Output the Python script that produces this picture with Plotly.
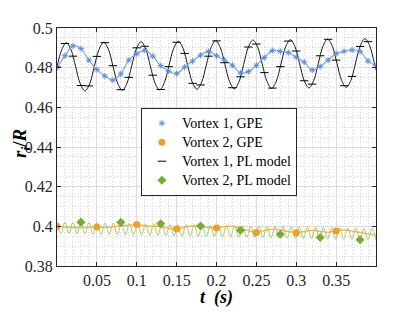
import plotly.graph_objects as go

# ---------------- data ----------------
# Vortex 1, GPE (sampled every 0.01 s)
t_gpe = [0.00, 0.01, 0.02, 0.03, 0.04, 0.05, 0.06, 0.07, 0.08, 0.09,
         0.10, 0.11, 0.12, 0.13, 0.14, 0.15, 0.16, 0.17, 0.18, 0.19,
         0.20, 0.21, 0.22, 0.23, 0.24, 0.25, 0.26, 0.27, 0.28, 0.29,
         0.30, 0.31, 0.32, 0.33, 0.34, 0.35, 0.36, 0.37, 0.38, 0.39, 0.40]
r1_gpe = [0.4800, 0.4860, 0.4910, 0.4896, 0.4838, 0.4790, 0.4758, 0.4737, 0.4768, 0.4838,
          0.4870, 0.4888, 0.4858, 0.4810, 0.4782, 0.4770, 0.4803, 0.4833, 0.4863, 0.4882,
          0.4860, 0.4838, 0.4812, 0.4773, 0.4780, 0.4812, 0.4851, 0.4886, 0.4882, 0.4876,
          0.4853, 0.4828, 0.4788, 0.4806, 0.4838, 0.4871, 0.4882, 0.4889, 0.4882, 0.4833, 0.4810]

# Vortex 2, GPE line (every 0.01 s)
r2_gpe = [0.4000, 0.3996, 0.3994, 0.3992, 0.3995, 0.3997, 0.3993, 0.3998, 0.4003, 0.4006,
          0.4009, 0.4004, 0.4000, 0.3998, 0.3990, 0.3986, 0.3995, 0.4002, 0.3998, 0.3994,
          0.3991, 0.3999, 0.4001, 0.3990, 0.3978, 0.3969, 0.3978, 0.3986, 0.3982, 0.3974,
          0.3968, 0.3974, 0.3980, 0.3975, 0.3970, 0.3977, 0.3982, 0.3976, 0.3970, 0.3962, 0.3956]
# Vortex 2, GPE markers
t2_gpe_mk = [0.00, 0.05, 0.10, 0.15, 0.20, 0.25, 0.30, 0.35]
r2_gpe_mk = [0.4000, 0.3997, 0.4009, 0.3986, 0.3991, 0.3969, 0.3968, 0.3977]

# Vortex 1, PL model line (read every 1/8 of its period)
t1_pl = [0.0000, 0.0059, 0.0117, 0.0176, 0.0234, 0.0293, 0.0351, 0.0410, 0.0468, 0.0527,
         0.0585, 0.0644, 0.0702, 0.0761, 0.0819, 0.0878, 0.0936, 0.0995, 0.1053, 0.1112,
         0.1170, 0.1229, 0.1287, 0.1346, 0.1404, 0.1463, 0.1521, 0.1580, 0.1638, 0.1697,
         0.1755, 0.1814, 0.1872, 0.1931, 0.1989, 0.2048, 0.2106, 0.2165, 0.2223, 0.2282,
         0.2340, 0.2399, 0.2457, 0.2516, 0.2574, 0.2633, 0.2691, 0.2750, 0.2808, 0.2867,
         0.2925, 0.2984, 0.3042, 0.3101, 0.3159, 0.3218, 0.3276, 0.3335, 0.3393, 0.3452,
         0.3510, 0.3569, 0.3627, 0.3686, 0.3744, 0.3803, 0.3861, 0.3920, 0.3978, 0.4037]
r1_pl = [0.4803, 0.4890, 0.4926, 0.4890, 0.4804, 0.4718, 0.4683, 0.4719, 0.4806, 0.4892,
         0.4928, 0.4893, 0.4807, 0.4721, 0.4686, 0.4722, 0.4808, 0.4895, 0.4931, 0.4895,
         0.4809, 0.4723, 0.4688, 0.4724, 0.4811, 0.4897, 0.4933, 0.4898, 0.4812, 0.4726,
         0.4691, 0.4727, 0.4813, 0.4900, 0.4936, 0.4901, 0.4815, 0.4729, 0.4693, 0.4729,
         0.4816, 0.4903, 0.4939, 0.4903, 0.4817, 0.4731, 0.4696, 0.4732, 0.4818, 0.4905,
         0.4941, 0.4906, 0.4820, 0.4734, 0.4698, 0.4734, 0.4821, 0.4908, 0.4944, 0.4908,
         0.4822, 0.4736, 0.4701, 0.4737, 0.4824, 0.4910, 0.4946, 0.4911, 0.4825, 0.4739]
# Vortex 1, PL model markers (every 0.01 s)
r1_pl_mk = [0.4803, 0.4922, 0.4858, 0.4710, 0.4708, 0.4857, 0.4926, 0.4810, 0.4689, 0.4751,
            0.4900, 0.4908, 0.4762, 0.4690, 0.4805, 0.4928, 0.4872, 0.4721, 0.4713, 0.4858,
            0.4935, 0.4825, 0.4699, 0.4754, 0.4904, 0.4919, 0.4775, 0.4697, 0.4805, 0.4934,
            0.4884, 0.4734, 0.4717, 0.4860, 0.4943, 0.4838, 0.4709, 0.4756, 0.4907, 0.4931]

# Vortex 2, PL model line: peaks and troughs
t2_pl_peak = [0.0000, 0.0099, 0.0199, 0.0300, 0.0401, 0.0503, 0.0604, 0.0706, 0.0807, 0.0908,
              0.1010, 0.1111, 0.1213, 0.1314, 0.1416, 0.1517, 0.1618, 0.1720, 0.1821, 0.1923,
              0.2024, 0.2125, 0.2227, 0.2328, 0.2430, 0.2531, 0.2632, 0.2734, 0.2835, 0.2937,
              0.3038, 0.3140, 0.3241, 0.3342, 0.3444, 0.3545, 0.3647, 0.3748, 0.3849, 0.3951]
r2_pl_peak = [0.4010, 0.4021, 0.4020, 0.4020, 0.4019, 0.4018, 0.4017, 0.4016, 0.4015, 0.4014,
              0.4014, 0.4013, 0.4012, 0.4011, 0.4010, 0.4009, 0.4009, 0.4008, 0.4007, 0.4006,
              0.4005, 0.4004, 0.4004, 0.4003, 0.4002, 0.4001, 0.4000, 0.3999, 0.3998, 0.3998,
              0.3997, 0.3996, 0.3995, 0.3994, 0.3993, 0.3993, 0.3992, 0.3991, 0.3990, 0.3989]
t2_pl_trough = [0.0051, 0.0150, 0.0250, 0.0351, 0.0452, 0.0554, 0.0655, 0.0757, 0.0858, 0.0959,
                0.1061, 0.1162, 0.1264, 0.1365, 0.1467, 0.1568, 0.1669, 0.1771, 0.1872, 0.1974,
                0.2075, 0.2176, 0.2278, 0.2379, 0.2481, 0.2582, 0.2683, 0.2785, 0.2886, 0.2988,
                0.3089, 0.3191, 0.3292, 0.3393, 0.3495, 0.3596, 0.3698, 0.3799, 0.3900, 0.4000]
r2_pl_trough = [0.3964, 0.3963, 0.3962, 0.3961, 0.3960, 0.3959, 0.3959, 0.3958, 0.3957, 0.3956,
                0.3955, 0.3954, 0.3954, 0.3953, 0.3952, 0.3951, 0.3950, 0.3949, 0.3948, 0.3948,
                0.3947, 0.3946, 0.3945, 0.3944, 0.3943, 0.3943, 0.3942, 0.3941, 0.3940, 0.3939,
                0.3938, 0.3938, 0.3937, 0.3936, 0.3935, 0.3934, 0.3933, 0.3932, 0.3932, 0.3931]
# Vortex 2, PL model markers
t2_pl_mk = [0.03, 0.08, 0.13, 0.18, 0.23, 0.28, 0.33, 0.38]
r2_pl_mk = [0.4021, 0.4020, 0.4013, 0.4002, 0.3980, 0.3960, 0.3944, 0.3932]

x_tickvals = [0.05, 0.10, 0.15, 0.20, 0.25, 0.30, 0.35]
x_ticktext = ["0.05", "0.1", "0.15", "0.2", "0.25", "0.3", "0.35"]
y_tickvals = [0.38, 0.40, 0.42, 0.44, 0.46, 0.48, 0.50]
y_ticktext = ["0.38", "0.4", "0.42", "0.44", "0.46", "0.48", "0.5"]

legend_names = ["Vortex 1, GPE", "Vortex 2, GPE", "Vortex 1, PL model", "Vortex 2, PL model"]

# ---------------- styles ----------------
BLUE_L = "#7ea6e2"
BLUE_M = "#5f8cd8"
ORANGE = "#eaa12a"
ORANGE_L = "#efb34a"
GREEN = "#77ac30"
GREEN_L = "#9cc45e"
AX = "#262626"
FONT = "Liberation Serif"


def leg(name):
    return '<span style="font-size:14px">' + name + '</span>'


# merge green peaks/troughs in time order
g_pts = sorted(zip(t2_pl_peak + t2_pl_trough, r2_pl_peak + r2_pl_trough))
t2_pl = [p[0] for p in g_pts]
r2_pl = [p[1] for p in g_pts]

fig = go.Figure()

# lines (no legend)
fig.add_trace(go.Scatter(x=t2_pl, y=r2_pl, mode="lines", line=dict(color=GREEN_L, width=0.9, shape="spline"),
                         showlegend=False, hoverinfo="skip"))
fig.add_trace(go.Scatter(x=t_gpe, y=r2_gpe, mode="lines", line=dict(color=ORANGE_L, width=1.3, shape="spline"),
                         showlegend=False, hoverinfo="skip"))
fig.add_trace(go.Scatter(x=t1_pl, y=r1_pl, mode="lines", line=dict(color="black", width=0.9, shape="spline"),
                         showlegend=False, hoverinfo="skip"))
fig.add_trace(go.Scatter(x=t_gpe, y=r1_gpe, mode="lines", line=dict(color=BLUE_L, width=1.2, shape="spline"),
                         showlegend=False, hoverinfo="skip"))

# markers (legend)
fig.add_trace(go.Scatter(x=t_gpe, y=r1_gpe, mode="markers", name=leg(legend_names[0]),
                         marker=dict(symbol="asterisk-open", size=5, color=BLUE_M, line=dict(color=BLUE_M, width=1))))
fig.add_trace(go.Scatter(x=t2_gpe_mk, y=r2_gpe_mk, mode="markers", name=leg(legend_names[1]),
                         marker=dict(symbol="circle", size=7, color=ORANGE, line=dict(width=0))))
fig.add_trace(go.Scatter(x=t_gpe[:40], y=r1_pl_mk, mode="markers", name=leg(legend_names[2]),
                         marker=dict(symbol="line-ew-open", size=6, color="black", line=dict(color="black", width=1))))
fig.add_trace(go.Scatter(x=t2_pl_mk, y=r2_pl_mk, mode="markers", name=leg(legend_names[3]),
                         marker=dict(symbol="diamond", size=7, color=GREEN, line=dict(width=0))))

axis_common = dict(
    showline=True, linecolor=AX, linewidth=1, mirror="ticks",
    ticks="inside", ticklen=4, tickcolor=AX, tickwidth=1,
    showgrid=True, gridcolor="#dcdcdc", gridwidth=1,
    zeroline=False,
    tickfont=dict(family=FONT, size=16, color=AX),
)

minor_style = dict(showgrid=True, gridcolor="#d8d8d8", griddash="1px,2px", gridwidth=1, ticks="")

fig.update_xaxes(range=[0, 0.4], tickvals=x_tickvals, ticktext=x_ticktext,
                 minor=dict(tick0=0, dtick=0.01, **minor_style), **axis_common)
fig.update_yaxes(range=[0.38, 0.5], tickvals=y_tickvals, ticktext=y_ticktext,
                 minor=dict(tick0=0.38, dtick=0.005, **minor_style), **axis_common)

# page has an 8px body margin: figure is placed at (8, 8)
fig.update_layout(
    width=407, height=304,
    margin=dict(l=49, r=39, t=16, b=46),
    paper_bgcolor="white", plot_bgcolor="white",
    font=dict(family=FONT, color=AX),
    legend=dict(x=0.263, y=0.665, xanchor="left", yanchor="top",
                bgcolor="white", bordercolor=AX, borderwidth=1,
                font=dict(family=FONT, size=11, color="black"),
                itemwidth=30, tracegroupgap=0),
    annotations=[
        dict(text="<b><i>r<sub>i</sub></i>/<i>R</i></b>", xref="paper", yref="paper",
             x=-0.113, y=0.517, textangle=-90, showarrow=False,
             font=dict(family=FONT, size=19, color="black"), xanchor="center", yanchor="middle"),
        dict(text="<b><i>t</i>  <i>(s)</i></b>", xref="paper", yref="paper",
             x=0.5, y=-0.133, showarrow=False,
             font=dict(family=FONT, size=18, color="black"), xanchor="center", yanchor="middle"),
    ],
)

fig.write_html("out.html")
